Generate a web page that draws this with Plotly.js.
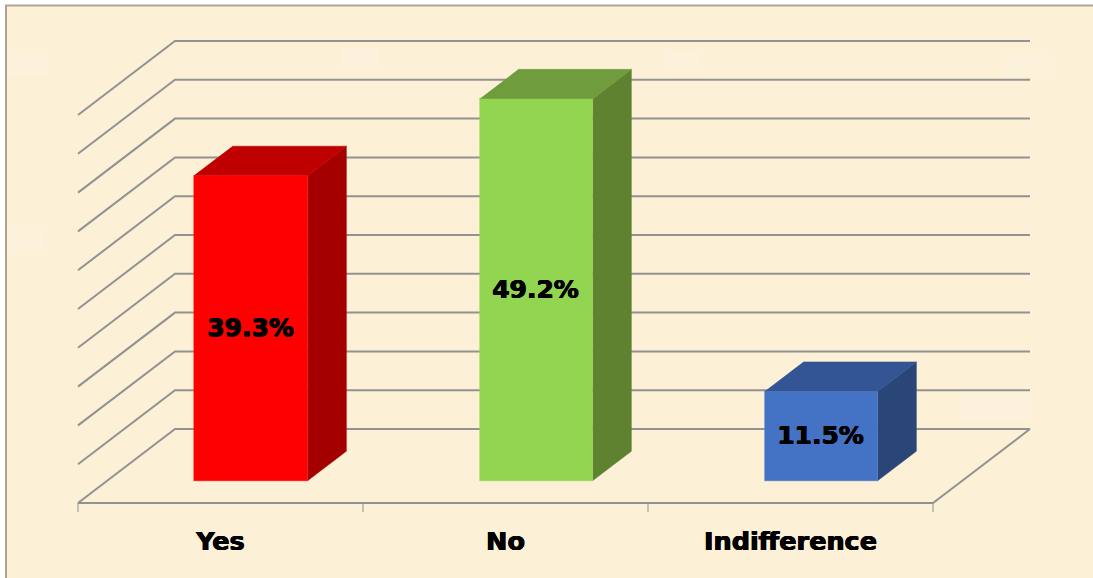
<!DOCTYPE html>
<html>
<head>
<meta charset="utf-8">
<script src="https://cdn.plot.ly/plotly-3.0.1.min.js"></script>
<style>html,body{margin:0;padding:0;background:#fff;overflow:hidden}#chart{width:1093px;height:578px}</style>
</head>
<body>
<div id="chart"></div>
<script>
const categories = ['Yes', 'No', 'Indifference'];
const values = [39.3, 49.2, 11.5];
const valueLabels = ['39.3%', '49.2%', '11.5%'];
const gridValues = [0, 5, 10, 15, 20, 25, 30, 35, 40, 45, 50];
const tickPositions = [0, 1, 2, 3];
const faceColors = ['#ff0000', '#92d551', '#4472c4'];
const topColors = ['#bf0000', '#6f9d3e', '#335593'];
const sideColors = ['#a40000', '#5f8231', '#2a4678'];

const W = 1093, H = 578;
const originX = 78, originY = 503;
const mL = 74, mR = 59, mT = 35, mB = 63;
const pxPerCat = 285, pxPerUnit = 7.76;
const depthX = 97 / pxPerCat, depthY = 74 / pxPerUnit;
const barFront = 0.31, barBack = 0.71, barHalf = 0.2;
const barDrop = 0.7 / pxPerUnit, labelDrop = 2.5 / pxPerUnit;
const gridColor = '#929292';
const labelFont = '"DejaVu Sans", sans-serif';
const labelShadow = '0.5px 0 0 #000, -0.5px 0 0 #000, 0 0.3px 0 #000';

const px = (c, d) => c + d * depthX;
const py = (v, d) => v + d * depthY;

function poly(pts, color) {
  return {
    type: 'scatter', mode: 'lines', x: pts.map(p => px(p[0], p[2])), y: pts.map(p => py(p[1], p[2]) - barDrop),
    fill: 'toself', fillcolor: color, line: {color: color, width: 0.5}, hoverinfo: 'skip'
  };
}
function line(pts, width) {
  return {
    type: 'scatter', mode: 'lines', x: pts.map(p => px(p[0], p[2])), y: pts.map(p => py(p[1], p[2])),
    line: {color: gridColor, width: width}, hoverinfo: 'skip'
  };
}

const traces = [];
const nCat = categories.length;
gridValues.forEach(v => {
  traces.push(line([[0, v, 0], [0, v, 1], [nCat, v, 1]], 2));
});
traces.push(line([[0, 0, 0], [nCat, 0, 0], [nCat, 0, 1]], 2));
tickPositions.forEach(t => {
  traces.push(line([[t, 0, 0], [t, -9 / pxPerUnit, 0]], 1));
});

categories.forEach((c, i) => {
  const l = i + 0.5 - barHalf + (i ? 0.003 : 0), r = i + 0.5 + barHalf, v = values[i];
  traces.push(poly([[r, 0, barFront], [r, 0, barBack], [r, v, barBack], [r, v, barFront]], sideColors[i]));
  traces.push(poly([[l, v, barFront], [r, v, barFront], [r, v, barBack], [l, v, barBack]], topColors[i]));
  traces.push(poly([[l, 0, barFront], [r, 0, barFront], [r, v, barFront], [l, v, barFront]], faceColors[i]));
});
traces.push({
  type: 'scatter', mode: 'text',
  x: categories.map((c, i) => px(i + 0.5, barFront)),
  y: values.map(v => py(v / 2, barFront) - labelDrop),
  text: valueLabels, textposition: 'middle center',
  textfont: {family: labelFont, size: 25, color: '#000', weight: 700, shadow: labelShadow},
  hoverinfo: 'skip', cliponaxis: false
});

const plotW = W - mL - mR, plotH = H - mT - mB;
const rx = p => (p - mL) / plotW;
const ry = p => (H - mB - p) / plotH;
const patches = [
  [8, 55, 48, 76], [340, 48, 380, 66], [665, 52, 700, 70], [1000, 55, 1050, 75],
  [10, 225, 45, 250], [960, 390, 1030, 420]
];
const layout = {
  width: W, height: H, showlegend: false,
  margin: {l: mL, r: mR, t: mT, b: mB, pad: 0},
  paper_bgcolor: '#ffffff', plot_bgcolor: 'rgba(0,0,0,0)',
  xaxis: {
    range: [(mL - originX) / pxPerCat, (W - mR - originX) / pxPerCat],
    showgrid: false, zeroline: false, showline: false,
    tickmode: 'array', tickvals: categories.map((c, i) => i + 0.5), ticktext: categories,
    ticks: '', ticklabelstandoff: 8,
    tickfont: {family: labelFont, size: 25.5, color: '#000', weight: 700, shadow: labelShadow}
  },
  yaxis: {range: [(originY - (H - mB)) / pxPerUnit, (originY - mT) / pxPerUnit], visible: false},
  shapes: [{
    type: 'rect', layer: 'below', xref: 'paper', yref: 'paper',
    x0: rx(6), x1: rx(W + 5), y0: ry(H + 5), y1: ry(5.5),
    fillcolor: '#fcf0d6', line: {color: '#aca596', width: 2}
  }].concat(patches.map(p => ({
    type: 'rect', layer: 'below', xref: 'paper', yref: 'paper',
    x0: rx(p[0]), x1: rx(p[2]), y0: ry(p[3]), y1: ry(p[1]),
    fillcolor: 'rgba(255,248,235,0.22)', line: {width: 0}
  })))
};
Plotly.newPlot('chart', traces, layout, {displayModeBar: false, staticPlot: true});
</script>
</body>
</html>
